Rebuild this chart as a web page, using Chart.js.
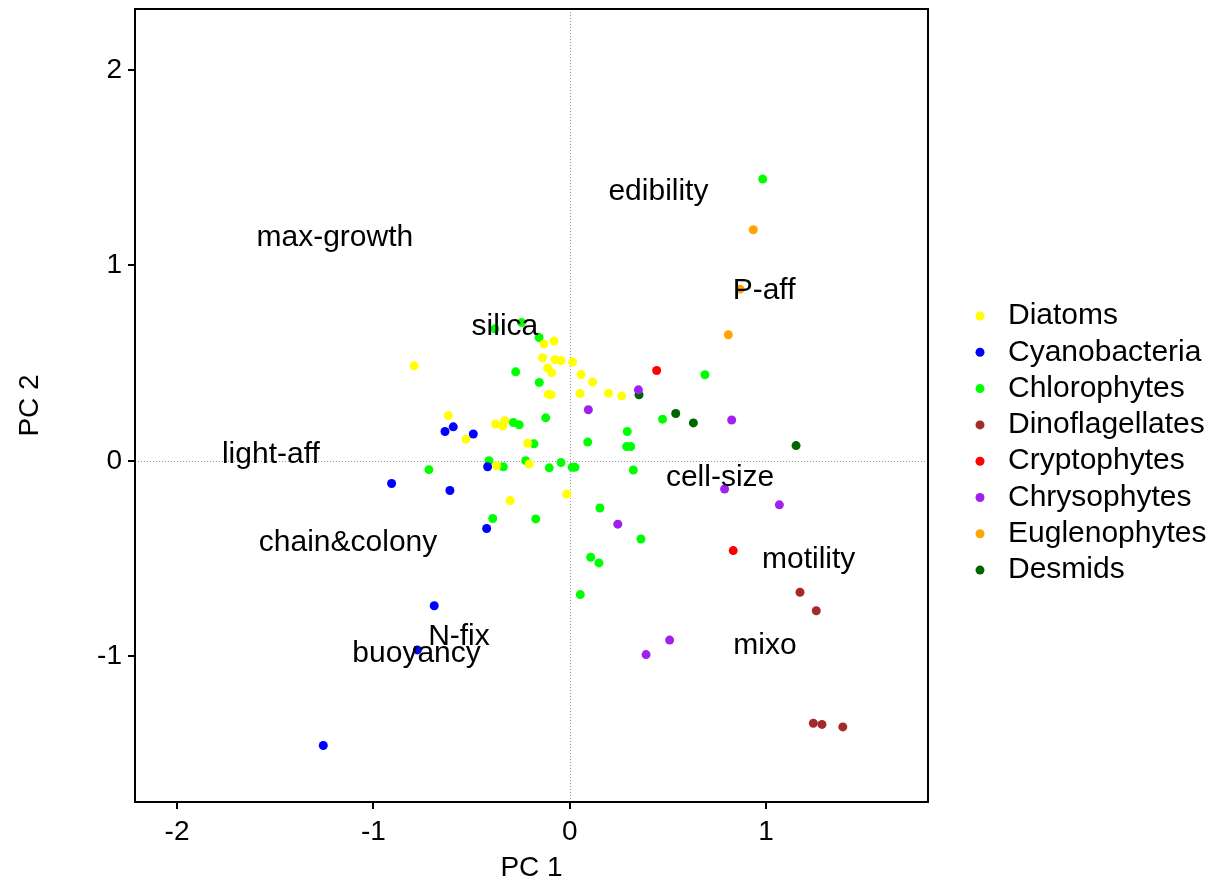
<!DOCTYPE html>
<html>
<head>
<meta charset="utf-8">
<script src="https://cdn.jsdelivr.net/npm/chart.js@4.4.1/dist/chart.umd.min.js"></script>
<style>
  html, body { margin: 0; padding: 0; background: #fff; }
  #wrap { width: 1212px; height: 889px; }
</style>
</head>
<body>
<div id="wrap"><canvas id="pca" width="1212" height="889"></canvas></div>
<script>
// PCA scores per phytoplankton group, [PC1, PC2]
const diatoms = [
  [-0.792, 0.486], [-0.131, 0.598], [-0.080, 0.613], [-0.138, 0.527], [-0.075, 0.517],
  [-0.044, 0.513], [0.015, 0.505], [-0.112, 0.475], [-0.092, 0.451], [0.058, 0.441],
  [0.117, 0.403], [-0.109, 0.341], [-0.095, 0.338], [0.052, 0.344], [0.197, 0.346],
  [0.265, 0.332], [-0.618, 0.232], [-0.528, 0.111], [-0.377, 0.188], [-0.330, 0.205],
  [-0.342, 0.178], [-0.214, 0.090], [-0.372, -0.025], [-0.206, -0.016], [-0.015, -0.170],
  [-0.303, -0.203]
];
const cyanobacteria = [
  [-0.593, 0.174], [-0.635, 0.150], [-0.491, 0.137], [-0.418, -0.030], [-0.907, -0.116],
  [-0.610, -0.152], [-0.423, -0.346], [-0.690, -0.741], [-0.776, -0.967], [-1.255, -1.456]
];
const chlorophytes = [
  [0.983, 1.441], [-0.245, 0.707], [-0.381, 0.675], [-0.156, 0.631], [-0.275, 0.455],
  [-0.155, 0.401], [-0.122, 0.220], [-0.287, 0.196], [-0.257, 0.184], [-0.182, 0.087],
  [0.092, 0.096], [0.290, 0.073], [0.311, 0.073], [0.293, 0.150], [0.473, 0.213],
  [0.689, 0.440], [-0.717, -0.045], [-0.411, 0.001], [-0.338, -0.030], [-0.224, 0.001],
  [-0.104, -0.036], [-0.044, -0.009], [0.013, -0.033], [0.027, -0.033], [0.324, -0.047],
  [0.154, -0.241], [-0.392, -0.295], [-0.173, -0.297], [0.363, -0.400], [0.107, -0.493],
  [0.149, -0.522], [0.054, -0.684]
];
const dinoflagellates = [
  [1.173, -0.672], [1.256, -0.767], [1.241, -1.342], [1.285, -1.348], [1.391, -1.361]
];
const cryptophytes = [
  [0.443, 0.462], [0.833, -0.459]
];
const chrysophytes = [
  [0.350, 0.363], [0.095, 0.261], [0.825, 0.209], [0.245, -0.324], [0.789, -0.144],
  [1.068, -0.225], [0.509, -0.917], [0.389, -0.991]
];
const euglenophytes = [
  [0.935, 1.182], [0.868, 0.878], [0.808, 0.645]
];
const desmids = [
  [0.353, 0.338], [0.540, 0.242], [0.630, 0.194], [1.153, 0.078]
];

const groupNames = ['Diatoms', 'Cyanobacteria', 'Chlorophytes', 'Dinoflagellates',
  'Cryptophytes', 'Chrysophytes', 'Euglenophytes', 'Desmids'];
const groupColors = ['#ffff00', '#0000ff', '#00ff00', '#a52a2a',
  '#ff0000', '#a020f0', '#ffa500', '#006400'];
const groupScores = [diatoms, cyanobacteria, chlorophytes, dinoflagellates,
  cryptophytes, chrysophytes, euglenophytes, desmids];

// trait names placed at their loading positions
const traitNames = ['edibility', 'max-growth', 'P-aff', 'silica', 'light-aff', 'cell-size',
  'chain&colony', 'motility', 'N-fix', 'mixo', 'buoyancy'];
const traitPC1 = [0.452, -1.196, 0.990, -0.330, -1.522, 0.766, -1.129, 1.217, -0.564, 0.995, -0.780];
const traitPC2 = [1.375, 1.140, 0.869, 0.685, 0.030, -0.088, -0.420, -0.508, -0.901, -0.947, -0.988];

const xTicks = [-2, -1, 0, 1];
const yTicks = [-1, 0, 1, 2];

const FONT = "'Liberation Sans', Arial, Helvetica, sans-serif";

const datasets = groupNames.map((name, i) => ({
  label: name,
  data: groupScores[i].map(p => ({ x: p[0], y: p[1] })),
  backgroundColor: groupColors[i],
  borderColor: groupColors[i],
  borderWidth: 0,
  pointRadius: 4.5
}));

// box, dotted zero lines, trait labels and legend
const decorations = {
  id: 'decorations',
  beforeDatasetsDraw(chart) {
    const { ctx, chartArea: a, scales: { x, y } } = chart;
    ctx.save();
    ctx.strokeStyle = '#9a9a9a';
    ctx.lineWidth = 1;
    ctx.setLineDash([1, 2]);
    const x0 = Math.round(x.getPixelForValue(0)) + 0.5;
    const y0 = Math.round(y.getPixelForValue(0)) + 0.5;
    ctx.beginPath();
    ctx.moveTo(x0, a.top); ctx.lineTo(x0, a.bottom);
    ctx.moveTo(a.left, y0); ctx.lineTo(a.right, y0);
    ctx.stroke();
    ctx.restore();
  },
  afterDatasetsDraw(chart) {
    const { ctx, chartArea: a, scales: { x, y } } = chart;
    ctx.save();
    ctx.fillStyle = '#000';
    ctx.font = '30px ' + FONT;
    ctx.textAlign = 'center';
    ctx.textBaseline = 'middle';
    traitNames.forEach((t, i) => {
      ctx.fillText(t, x.getPixelForValue(traitPC1[i]), y.getPixelForValue(traitPC2[i]));
    });

    ctx.strokeStyle = '#000';
    ctx.lineWidth = 2;
    ctx.strokeRect(a.left, a.top, a.right - a.left, a.bottom - a.top);

    // legend
    const lx = 980, ly = 316, step = 36.3;
    ctx.textAlign = 'left';
    groupNames.forEach((name, i) => {
      const cy = ly + i * step;
      ctx.fillStyle = groupColors[i];
      ctx.beginPath();
      ctx.arc(lx, cy, 4.5, 0, Math.PI * 2);
      ctx.fill();
      ctx.fillStyle = '#000';
      ctx.fillText(name, lx + 28, cy);
    });
    ctx.restore();
  }
};

new Chart(document.getElementById('pca'), {
  type: 'scatter',
  data: { datasets },
  options: {
    responsive: false,
    devicePixelRatio: 1,
    animation: false,
    events: [],
    layout: { padding: { left: 0, right: 284, top: 9, bottom: 0 } },
    plugins: { legend: { display: false }, tooltip: { enabled: false } },
    scales: {
      x: {
        type: 'linear',
        min: -2.214,
        max: 1.825,
        afterBuildTicks: s => { s.ticks = xTicks.map(v => ({ value: v })); },
        afterFit: s => { s.height = 87; s.paddingLeft = 0; s.paddingRight = 0; },
        border: { display: false },
        grid: { drawOnChartArea: false, drawTicks: true, tickLength: 7, color: '#000', lineWidth: 2 },
        ticks: { color: '#000', font: { family: FONT, size: 28 }, padding: 6, callback: v => String(v) },
        title: { display: true, text: 'PC 1', color: '#000', font: { family: FONT, size: 28 }, padding: { top: 0, bottom: 4 } }
      },
      y: {
        type: 'linear',
        min: -1.745,
        max: 2.311,
        afterBuildTicks: s => { s.ticks = yTicks.map(v => ({ value: v })); },
        afterFit: s => { s.width = 135; s.paddingTop = 0; s.paddingBottom = 0; },
        border: { display: false },
        grid: { drawOnChartArea: false, drawTicks: true, tickLength: 7, color: '#000', lineWidth: 2 },
        ticks: { color: '#000', font: { family: FONT, size: 28 }, padding: 6, callback: v => String(v) },
        title: { display: true, text: 'PC 2', color: '#000', font: { family: FONT, size: 28 }, padding: { top: 13, bottom: 0 } }
      }
    }
  },
  plugins: [decorations]
});
</script>
</body>
</html>
